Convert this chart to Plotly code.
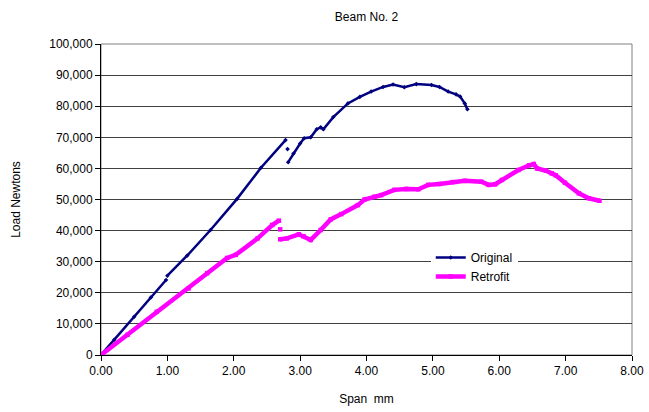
import plotly.graph_objects as go

# Original beam (Span mm, Load N); None marks gaps in the recorded data
orig_span = [0.00, 0.20, 0.50, 0.75, 0.98, 0.99, 1.00, 1.30, 1.65, 2.05, 2.41, 2.78, 2.80,
             2.81, 2.815, 2.82, 2.90, 3.00, 3.06, 3.16, 3.25, 3.31, 3.35, 3.50, 3.72, 3.90,
             4.07, 4.25, 4.40, 4.57, 4.75, 4.98, 5.10, 5.23, 5.35, 5.41, 5.48, 5.52]
orig_load = [0, 4900, 12300, 18500, 24100, None, 25500, 32000, 40200, 50200, 60200, 69100, None,
             66200, None, 62000, 64800, 68000, 69700, 70000, 72600, 73200, 72600, 76500, 80900, 83000,
             84700, 86200, 87000, 86100, 87100, 86800, 86200, 84700, 83800, 83100, 80900, 79000]

# Retrofitted beam
retro_span = [0.00, 0.40, 0.84, 1.32, 1.60, 1.90, 2.03, 2.36, 2.58, 2.68, 2.69,
              2.70, 2.701, 2.70, 2.80, 2.98, 3.05, 3.16, 3.31, 3.46, 3.62, 3.87, 3.97,
              4.12, 4.22, 4.42, 4.60, 4.78, 4.93, 5.10, 5.30, 5.48, 5.73, 5.84, 5.94,
              6.04, 6.29, 6.45, 6.52, 6.57, 6.70, 6.79, 6.85, 6.99, 7.20, 7.35, 7.51]
retro_load = [0, 6500, 13900, 21400, 26300, 31200, 32200, 37500, 41800, 43200, None,
              40400, None, 37200, 37500, 38800, 38200, 37000, 40200, 43600, 45300, 48200, 50000,
              50900, 51400, 53100, 53400, 53300, 54700, 55000, 55600, 56000, 55700, 54700, 54900,
              56300, 59500, 61000, 61400, 60000, 59300, 58400, 57800, 55400, 52000, 50400, 49600]

series_names = ["Original", "Retrofit"]
x_ticks = [0, 1, 2, 3, 4, 5, 6, 7, 8]
y_ticks = list(range(0, 100001, 10000))

FONT = "Liberation Sans, Arial, sans-serif"

fig = go.Figure()
fig.add_trace(go.Scatter(
    x=orig_span, y=orig_load, name=series_names[0], mode="lines+markers",
    line=dict(color="#000080", width=2.5), connectgaps=False,
    marker=dict(symbol="diamond", size=3.5, color="#000080")))
fig.add_trace(go.Scatter(
    x=retro_span, y=retro_load, name=series_names[1], mode="lines+markers",
    line=dict(color="#FF00FF", width=4.5), connectgaps=False,
    marker=dict(symbol="square", size=4.5, color="#FF00FF")))

fig.update_layout(
    width=649, height=412,
    margin=dict(l=101, r=17, t=44, b=57),
    paper_bgcolor="white", plot_bgcolor="white",
    font=dict(family=FONT, size=12, color="black"),
    title=dict(text="Beam No. 2", x=(101 + 632) / 2 / 649, xanchor="center",
               y=1 - 17 / 412, yanchor="middle", font=dict(size=12)),
    showlegend=True,
    legend=dict(x=0.621, y=0.36, xanchor="left", yanchor="top",
                bgcolor="white", borderwidth=0, font=dict(size=12),
                tracegroupgap=0),
    shapes=[dict(type="rect", xref="paper", yref="paper", x0=0, y0=0, x1=1, y1=1,
                 line=dict(color="#808080", width=1), layer="below")],
)
fig.update_xaxes(
    range=[0, 8], tickvals=x_ticks, tickformat=".2f", showgrid=False, zeroline=False,
    showline=True, linecolor="black", linewidth=1, ticks="outside", ticklen=5,
    tickcolor="black", automargin=False,
    title=dict(text="Span\u00a0\u00a0mm", standoff=17, font=dict(size=12)))
fig.update_yaxes(
    range=[0, 100000], tickvals=y_ticks, tickformat=",d", showgrid=True,
    gridcolor="#404040", gridwidth=1, zeroline=False,
    showline=True, linecolor="black", linewidth=1, ticks="outside", ticklen=5,
    tickcolor="black", automargin=False,
    title=dict(text="Load Newtons", standoff=26, font=dict(size=12)))

fig.write_html("out.html")
